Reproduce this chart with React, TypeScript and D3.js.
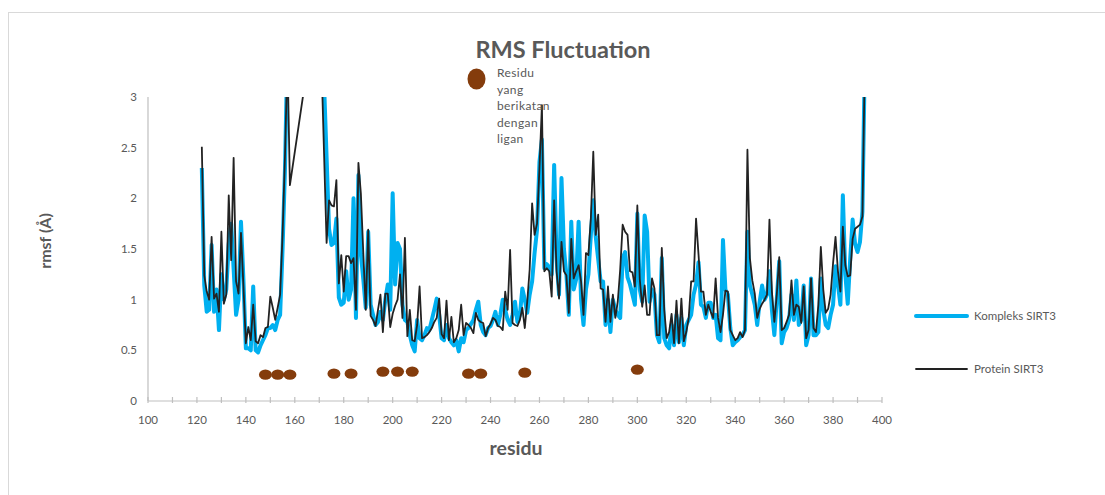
import React, { useRef, useEffect } from 'react';
import * as d3 from 'd3';

// residues 122..393, one value per residue (null = not plotted)
const firstResidue = 122;

const protein = [
  2.51, 1.24, 1.08, 1.00, 1.62, 1.01, 1.06, 0.88, 1.67, 0.96,
  1.05, 2.03, 1.39, 2.40, 1.18, 1.06, 1.66, 1.14, 0.57, 0.73,
  0.60, 0.95, 0.59, 0.57, 0.65, 0.63, 0.72, 0.73, 1.03, 0.92,
  0.80, 0.92, 1.05, 1.64, 2.43, 3.40, 2.13, null, null, null,
  null, null, null, null, null, null, null, null, 4.10, null,
  null, 1.56, 1.98, 1.93, 1.92, 2.18, 1.16, 1.44, 1.08, 1.43,
  1.43, 1.36, 1.41, 0.90, 2.35, 2.05, 1.46, 0.90, 1.69, 0.84,
  0.80, 0.74, 0.90, 1.05, 0.68, 1.06, 1.06, 0.73, 0.86, 0.94,
  1.00, 1.25, 0.82, 1.61, 0.64, 0.90, 0.60, 0.59, 0.75, 1.13,
  0.62, 0.63, 0.65, 0.68, 0.72, 0.78, 0.82, 1.01, 0.66, 0.62,
  0.99, 0.60, 0.83, 0.58, 0.62, 0.70, 0.95, 0.65, 0.77, 0.75,
  0.72, 0.67, 0.87, 0.80, 0.78, 0.77, 0.64, 0.72, 0.76, 0.82,
  0.80, 0.74, 0.73, 0.70, 1.08, 0.90, 1.49, 0.77, 0.75, 0.74,
  0.80, 0.92, 0.72, 0.98, 1.30, 1.95, 1.64, 1.75, 2.30, 2.92,
  1.28, 1.31, 1.28, 1.03, 1.98, 1.28, 1.01, 1.57, 1.28, 1.24,
  0.87, 1.60, 1.21, 1.28, 1.34, 1.18, 0.85, 1.46, 1.44, 1.80,
  2.46, 1.64, 1.84, 1.11, 1.10, 0.78, 1.13, 0.78, 1.05, 0.82,
  0.98, 1.30, 1.74, 1.67, 1.64, 1.28, 1.27, 1.13, 1.93, 1.20,
  0.93, 1.14, 0.85, 0.85, 1.21, 1.11, 0.65, 0.65, 1.51, 0.90,
  0.62, 0.68, 0.86, 0.57, 0.99, 0.57, 1.01, 0.59, 0.68, 0.82,
  1.18, 1.18, 1.80, 1.45, 1.08, 1.08, 0.85, 0.95, 0.88, 0.82,
  1.21, 0.82, 0.68, 0.85, 1.09, 1.08, 0.70, 0.65, 0.60, 0.62,
  0.68, 0.63, 0.70, 2.48, 1.41, 1.19, 1.06, 0.82, 0.91, 0.96,
  1.00, 1.05, 1.79, 1.08, 0.78, 1.05, 1.42, 0.70, 0.72, 0.78,
  0.85, 1.19, 0.85, 0.95, 0.93, 0.77, 1.13, 0.62, 0.70, 1.21,
  0.72, 0.68, 0.95, 1.52, 1.10, 0.87, 0.91, 1.05, 1.36, 1.62,
  1.28, 1.08, 1.72, 1.34, 1.23, 1.24, 1.60, 1.70, 1.72, 1.74,
  1.82, 3.40,
];

const kompleks = [
  2.30, 1.14, 0.88, 0.90, 1.54, 0.88, 1.10, 0.70, 1.25, 1.00,
  1.10, 1.55, 1.75, 1.30, 0.85, 1.00, 1.77, 1.20, 0.52, 0.52,
  0.50, 1.13, 0.50, 0.48, 0.55, 0.60, 0.65, 0.72, 0.72, 0.75,
  0.70, 0.80, 0.85, 1.50, 2.30, 3.50, null, null, null, null,
  null, null, null, null, null, null, null, null, null, 3.30,
  3.10, 2.40, 1.70, 1.54, 1.56, 1.80, 1.02, 0.95, 0.97, 1.28,
  1.00, 1.10, 2.00, 0.82, 2.23, 1.45, 1.20, 0.92, 1.67, 0.95,
  0.85, 0.75, 0.78, 0.88, 0.80, 1.00, 1.15, 0.90, 2.05, 1.15,
  1.56, 1.50, 0.95, 0.80, 0.78, 0.65, 0.55, 0.49, 0.80, 0.62,
  0.60, 0.65, 0.72, 0.70, 0.80, 0.90, 1.01, 0.85, 0.62, 0.60,
  0.75, 0.62, 0.58, 0.55, 0.60, 0.49, 0.62, 0.58, 0.70, 0.72,
  0.76, 0.80, 0.90, 0.98, 0.75, 0.68, 0.65, 0.72, 0.74, 0.80,
  0.88, 0.75, 0.85, 1.00, 0.90, 0.80, 0.75, 0.85, 0.98, 0.78,
  0.85, 1.11, 1.00, 0.87, 1.05, 1.18, 1.46, 1.69, 2.36, 2.58,
  1.31, 1.35, 1.32, 1.25, 2.33, 1.40, 1.05, 2.20, 1.50, 1.25,
  0.85, 1.77, 1.10, 1.20, 1.77, 1.00, 0.75, 1.10, 1.25, 1.64,
  1.98, 1.62, 1.40, 1.18, 1.18, 0.75, 1.00, 0.68, 1.00, 0.90,
  0.85, 0.82, 1.41, 1.47, 1.22, 1.15, 1.05, 0.95, 1.85, 1.10,
  0.98, 1.83, 1.67, 0.98, 1.10, 1.05, 0.65, 0.58, 1.41, 0.62,
  0.55, 0.52, 0.75, 0.55, 0.85, 0.58, 0.82, 0.55, 0.75, 0.80,
  0.85, 1.05, 1.15, 1.37, 0.95, 0.93, 0.82, 0.97, 0.97, 0.82,
  0.85, 0.62, 0.60, 1.59, 1.10, 1.05, 0.72, 0.55, 0.58, 0.60,
  0.63, 0.65, 0.70, 1.67, 1.14, 1.05, 0.95, 0.75, 0.98, 1.14,
  1.00, 1.05, 1.28, 0.90, 0.65, 1.00, 1.38, 0.57, 0.68, 0.72,
  0.80, 1.05, 0.80, 1.19, 0.75, 0.80, 1.14, 0.55, 0.65, 1.21,
  0.65, 0.65, 0.68, 1.21, 0.90, 0.75, 0.72, 0.85, 0.95, 1.33,
  1.15, 0.95, 2.03, 1.25, 0.96, 1.40, 1.79, 1.55, 1.47, 1.57,
  1.87, 3.40,
];

// residues bound to the ligand
const ligandResidues = [148, 153, 158, 176, 183, 196, 202, 208, 231, 236, 254, 300];
const ligandValues = [0.26, 0.26, 0.26, 0.27, 0.27, 0.29, 0.29, 0.29, 0.27, 0.27, 0.28, 0.31];

const xTicks = d3.range(100, 401, 10);
const xLabels = d3.range(100, 401, 20);
const yLabels = [0, 0.5, 1, 1.5, 2, 2.5, 3];
const legendNote = ['Residu', 'yang', 'berikatan', 'dengan', 'ligan'];

const BLUE = '#00B0F0';
const BLACK = '#222222';
const GREY = '#595959';
const AXIS = '#BFBFBF';
const BROWN = '#843C0C';
const FONT = 'Lato, "Liberation Sans", sans-serif';

export default function App() {
    const chartRef = useRef(null);
    const width = 1105, height = 495;

    useEffect(() => {
        const svg = d3.select(chartRef.current);
        svg.selectAll('*').remove();

        const xScale = d3.scaleLinear().domain([100, 400]).range([148, 882]);
        const yScale = d3.scaleLinear().domain([0, 3]).range([401, 97]);

        // chart frame
        svg.append('rect')
            .attr('x', 8.5).attr('y', 12.5)
            .attr('width', 1300).attr('height', 700)
            .attr('fill', 'white').attr('stroke', '#D9D9D9');

        svg.append('defs').append('clipPath').attr('id', 'plot')
            .append('rect')
            .attr('x', xScale(100)).attr('y', yScale(3))
            .attr('width', xScale(400) - xScale(100))
            .attr('height', yScale(0) - yScale(3));

        // axes
        svg.append('line')
            .attr('x1', xScale(100)).attr('x2', xScale(100))
            .attr('y1', yScale(0)).attr('y2', yScale(3))
            .attr('stroke', AXIS).attr('stroke-width', 1.2);
        svg.append('line')
            .attr('x1', xScale(100)).attr('x2', xScale(400))
            .attr('y1', yScale(0)).attr('y2', yScale(0))
            .attr('stroke', AXIS).attr('stroke-width', 1.2);
        svg.selectAll('line.xtick').data(xTicks).join('line')
            .attr('class', 'xtick')
            .attr('x1', d => xScale(d)).attr('x2', d => xScale(d))
            .attr('y1', yScale(0) - 4).attr('y2', yScale(0) + 2)
            .attr('stroke', AXIS).attr('stroke-width', 1.2);

        svg.selectAll('text.xlab').data(xLabels).join('text')
            .attr('class', 'xlab')
            .attr('x', d => xScale(d)).attr('y', 424)
            .attr('text-anchor', 'middle')
            .style('font-family', FONT).style('font-size', '11.5px')
            .attr('fill', GREY)
            .text(d => d);

        svg.selectAll('text.ylab').data(yLabels).join('text')
            .attr('class', 'ylab')
            .attr('x', 137).attr('y', d => yScale(d) + 4)
            .attr('text-anchor', 'end')
            .style('font-family', FONT).style('font-size', '11.5px')
            .attr('fill', GREY)
            .text(d => d);

        // series
        const line = d3.line<any>()
            .x(d => xScale(d[0]))
            .y(d => yScale(d[1]));
        const pts = (vals: (number | null)[]) =>
            vals.map((v, i) => [firstResidue + i, v]).filter(d => d[1] !== null);

        const plot = svg.append('g').attr('clip-path', 'url(#plot)');
        plot.append('path')
            .attr('d', line(pts(kompleks)))
            .attr('fill', 'none').attr('stroke', BLUE)
            .attr('stroke-width', 4).attr('stroke-linejoin', 'round');
        plot.append('path')
            .attr('d', line(pts(protein)))
            .attr('fill', 'none').attr('stroke', BLACK)
            .attr('stroke-width', 1.8).attr('stroke-linejoin', 'round');

        svg.selectAll('ellipse.lig').data(ligandResidues).join('ellipse')
            .attr('class', 'lig')
            .attr('cx', d => xScale(d))
            .attr('cy', (d, i) => yScale(ligandValues[i]))
            .attr('rx', 6.5).attr('ry', 5.2)
            .attr('fill', BROWN);

        // title and axis titles
        svg.append('text')
            .attr('x', 563).attr('y', 58)
            .attr('text-anchor', 'middle')
            .style('font-family', FONT).style('font-size', '23.5px').style('font-weight', 'bold')
            .attr('fill', GREY)
            .text('RMS Fluctuation');

        svg.append('text')
            .attr('x', 516).attr('y', 455)
            .attr('text-anchor', 'middle')
            .style('font-family', FONT).style('font-size', '19.5px').style('font-weight', 'bold')
            .attr('fill', GREY)
            .text('residu');

        svg.append('text')
            .attr('transform', `translate(51,${241}) rotate(-90)`)
            .attr('text-anchor', 'middle')
            .style('font-family', FONT).style('font-size', '16px').style('font-weight', 'bold')
            .attr('fill', GREY)
            .text('rmsf (Å)');

        // ligand legend
        svg.append('ellipse')
            .attr('cx', 476.5).attr('cy', 79)
            .attr('rx', 9).attr('ry', 10.5)
            .attr('fill', BROWN);
        svg.selectAll('text.note').data(legendNote).join('text')
            .attr('class', 'note')
            .attr('x', 497).attr('y', (d, i) => 77 + i * 16.5)
            .style('font-family', FONT).style('font-size', '12px')
            .style('letter-spacing', '0.4px')
            .attr('fill', GREY)
            .text(d => d);

        // series legend
        const legend = [
            { name: 'Kompleks SIRT3', color: BLUE, w: 4, y: 316 },
            { name: 'Protein SIRT3', color: BLACK, w: 1.8, y: 369 },
        ];
        legend.forEach(l => {
            svg.append('line')
                .attr('x1', 916).attr('x2', 967)
                .attr('y1', l.y).attr('y2', l.y)
                .attr('stroke', l.color).attr('stroke-width', l.w)
                .attr('stroke-linecap', 'round');
            svg.append('text')
                .attr('x', 974).attr('y', l.y + 4)
                .style('font-family', FONT).style('font-size', '11.5px')
                .attr('fill', GREY)
                .text(l.name);
        });
    }, []);

    return (
        <svg width={width} height={height} ref={chartRef}
             style={{ position: 'absolute', left: 0, top: 0, background: 'white' }} />
    );
}
